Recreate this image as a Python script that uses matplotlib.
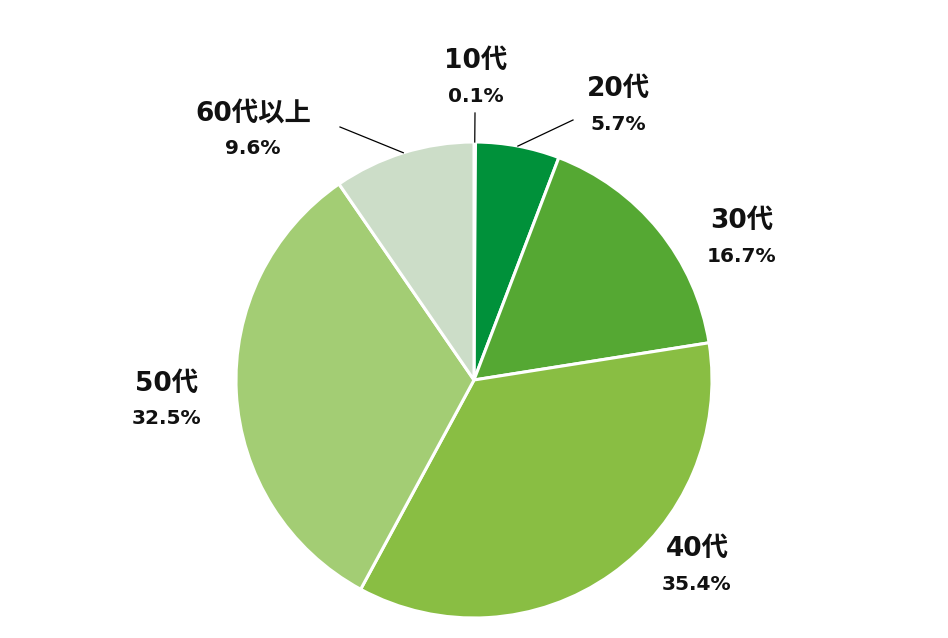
import numpy as np
import matplotlib
matplotlib.use("Agg")
import matplotlib.pyplot as plt

plt.rcParams['font.family'] = ['DejaVu Sans', 'Noto Sans CJK JP']

# 年代別の割合
labels = ['10代', '20代', '30代', '40代', '50代', '60代以上']
values = [0.1, 5.7, 16.7, 35.4, 32.5, 9.6]
colors = ['#1E7A3C', '#00913A', '#55A833', '#89BE43', '#A3CD74', '#CCDDC8']

W, H = 948, 638
cx, cy, r = 474, 380, 238  # 画面座標 (上から)

# ラベルの位置 (画面座標, 上から) と引き出し線の有無
label_pos = [(476, 78), (618, 106), (742, 238), (697, 566), (167, 401), (253, 131)]
leader_end = [(475, 113), (573, 120), None, None, None, (340, 127)]

fig = plt.figure(figsize=(W / 100, H / 100), dpi=100)
ax = fig.add_axes([0, 0, 1, 1])

wedges, _ = ax.pie(values, colors=colors, startangle=90, counterclock=False,
                   center=(cx, H - cy), radius=r,
                   wedgeprops=dict(edgecolor='white', linewidth=2.2))

ax.set_xlim(0, W)
ax.set_ylim(0, H)
ax.set_aspect('equal')
ax.axis('off')

for i, w in enumerate(wedges):
    lx, ly = label_pos[i]
    ax.text(lx, H - ly + 17, labels[i], ha='center', va='center',
            fontsize=19, fontweight='bold', color='#111111')
    ax.text(lx, H - ly - 18, f'{values[i]:.1f}%', ha='center', va='center',
            fontsize=14.5, fontweight='bold', color='#111111')
    if leader_end[i] is not None:
        ang = np.deg2rad((w.theta1 + w.theta2) / 2)
        x0 = cx + r * np.cos(ang)
        y0 = (H - cy) + r * np.sin(ang)
        ex, ey = leader_end[i]
        ax.plot([x0, ex], [y0, H - ey], color='black', linewidth=0.9)

fig.savefig('out.png', dpi=100, facecolor='white')
